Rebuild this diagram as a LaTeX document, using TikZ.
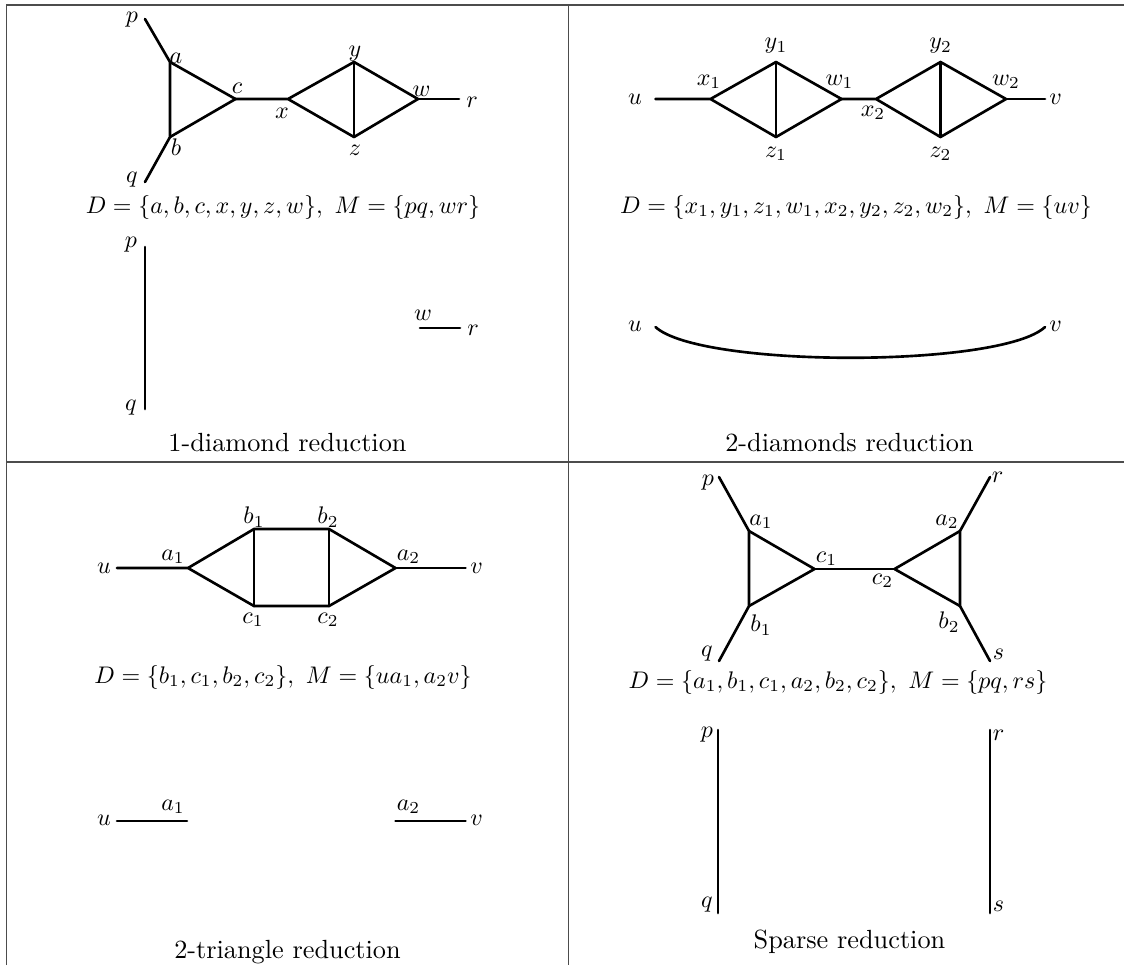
\documentclass[tikz,border=0pt]{standalone}
\usepackage{amsmath}
\usepackage{tikz}
\tikzset{
  % all graph edges share one weight; the table rules are thin and grey
  edge/.style    = {line width=1.1pt, line cap=round, line join=round},
  tabrule/.style = {line width=0.45pt, black!70},
  vlabel/.style  = {inner sep=0pt},
  caption/.style = {inner sep=0pt, font=\fontsize{10.95}{13.6}\selectfont},
}

\begin{document}
\begin{tikzpicture}[x=0.4167pt, y=-0.4167pt]
    \useasboundingbox (0,0) rectangle (1124,965);

    % table rules (the right and bottom ones fall outside the picture)
    \draw[tabrule] (6.5,965) -- (6.5,5) -- (1124,5);
    \draw[tabrule] (568.5,5) -- (568.5,965);
    \draw[tabrule] (6.5,462) -- (1124,462);

    % ---------------- 1-diamond reduction ----------------
    \coordinate (Ap) at (145,19);
    \coordinate (Aq) at (145,182);
    \coordinate (Aa) at (170,62);
    \coordinate (Ab) at (170,137);
    \coordinate (Ac) at (235.5,99);
    \coordinate (Ax) at (288,99);
    \coordinate (Ay) at (354,62);
    \coordinate (Az) at (354,137);
    \coordinate (Aw) at (418,99);
    \coordinate (Ar) at (459,99);

    \draw[edge] (Ap) -- (Aa) -- (Ab) -- (Aq);
    \draw[edge] (Aa) -- (Ac) -- (Ab);
    \draw[edge] (Ac) -- (Ax) -- (Ay) -- (Aw) -- (Az) -- (Ax);
    \draw[edge] (Ay) -- (Az);
    \draw[edge] (Aw) -- (Ar);

    \node[vlabel] (lAp) at (132,20)  {$p$};
    \node[vlabel] (lAq) at (132,180) {$q$};
    \node[vlabel] (lAa) at (176,58)  {$a$};
    \node[vlabel] (lAb) at (176,147) {$b$};
    \node[vlabel] (lAc) at (237,88)  {$c$};
    \node[vlabel] (lAx) at (282,113) {$x$};
    \node[vlabel] (lAy) at (355,54)  {$y$};
    \node[vlabel] (lAz) at (355,150) {$z$};
    \node[vlabel] (lAw) at (421.5,91) {$w$};
    \node[vlabel] (lAr) at (472,102) {$r$};
    \node[vlabel] (fA) at (283,207)
        {$D=\{a,b,c,x,y,z,w\},\ M=\{pq,wr\}$};

    % reduced graph
    \coordinate (Ap2) at (145,247);
    \coordinate (Aq2) at (145,409);
    \coordinate (Aw2) at (420,328);
    \coordinate (Ar2) at (460,328);
    \draw[edge] (Ap2) -- (Aq2);
    \draw[edge] (Aw2) -- (Ar2);
    \node[vlabel] (lAp2) at (131,245) {$p$};
    \node[vlabel] (lAq2) at (131,408) {$q$};
    \node[vlabel] (lAw2) at (423,315) {$w$};
    \node[vlabel] (lAr2) at (473,330) {$r$};
    \node[caption] (cA) at (287.5,443) {1-diamond reduction};

    % ---------------- 2-diamonds reduction ----------------
    \coordinate (Bu) at (655.5,99);
    \coordinate (Bx1) at (710.5,99);
    \coordinate (By1) at (776,62);
    \coordinate (Bz1) at (776,137);
    \coordinate (Bw1) at (841.5,99);
    \coordinate (Bx2) at (876,99);
    \coordinate (By2) at (940.5,62);
    \coordinate (Bz2) at (940.5,137);
    \coordinate (Bw2) at (1006,99);
    \coordinate (Bv) at (1045,99);

    \draw[edge] (Bu) -- (Bx1) -- (By1) -- (Bw1) -- (Bz1) -- (Bx1);
    \draw[edge] (By1) -- (Bz1);
    \draw[edge] (Bw1) -- (Bx2) -- (By2) -- (Bw2) -- (Bz2) -- (Bx2);
    \draw[edge] (By2) -- (Bz2);
    \draw[edge] (Bw2) -- (Bv);

    \node[vlabel] (lBu)  at (635,99)   {$u$};
    \node[vlabel] (lBx1) at (709,82)   {$x_1$};
    \node[vlabel] (lBy1) at (776,46)   {$y_1$};
    \node[vlabel] (lBz1) at (776,154)  {$z_1$};
    \node[vlabel] (lBw1) at (839.5,82) {$w_1$};
    \node[vlabel] (lBx2) at (873,113)  {$x_2$};
    \node[vlabel] (lBy2) at (940.5,46) {$y_2$};
    \node[vlabel] (lBz2) at (940.5,154) {$z_2$};
    \node[vlabel] (lBw2) at (1006,82)  {$w_2$};
    \node[vlabel] (lBv)  at (1055.5,99) {$v$};
    \node[vlabel] (fB) at (856,207)
        {$D=\{x_1,y_1,z_1,w_1,x_2,y_2,z_2,w_2\},\ M=\{uv\}$};

    % reduced graph
    \coordinate (Bu2) at (655.5,327);
    \coordinate (Bv2) at (1045,327);
    \draw[edge] (Bu2) .. controls (700,368) and (1001,368) .. (Bv2);
    \node[vlabel] (lBu2) at (635,326)    {$u$};
    \node[vlabel] (lBv2) at (1055.5,326) {$v$};
    \node[caption] (cB) at (849.5,443) {2-diamonds reduction};

    % ---------------- 2-triangle reduction ----------------
    \coordinate (Cu) at (117,568);
    \coordinate (Ca1) at (188,568);
    \coordinate (Cb1) at (254,529);
    \coordinate (Cc1) at (254,606);
    \coordinate (Cb2) at (329,529);
    \coordinate (Cc2) at (329,606);
    \coordinate (Ca2) at (395.5,568);
    \coordinate (Cv) at (465.5,568);

    \draw[edge] (Cu) -- (Ca1) -- (Cb1) -- (Cb2) -- (Ca2) -- (Cc2) -- (Cc1) -- (Ca1);
    \draw[edge] (Cb1) -- (Cc1);
    \draw[edge] (Cb2) -- (Cc2);
    \draw[edge] (Ca2) -- (Cv);

    \node[vlabel] (lCu)  at (104,568) {$u$};
    \node[vlabel] (lCa1) at (173,557) {$a_1$};
    \node[vlabel] (lCb1) at (254,517) {$b_1$};
    \node[vlabel] (lCc1) at (253,620) {$c_1$};
    \node[vlabel] (lCb2) at (328,517) {$b_2$};
    \node[vlabel] (lCc2) at (328,620) {$c_2$};
    \node[vlabel] (lCa2) at (408.5,557) {$a_2$};
    \node[vlabel] (lCv)  at (476.5,568) {$v$};
    \node[vlabel] (fC) at (283,677)
        {$D=\{b_1,c_1,b_2,c_2\},\ M=\{ua_1,a_2v\}$};

    % reduced graph
    \coordinate (Cu2) at (117,821);
    \coordinate (Ca12) at (187,821);
    \coordinate (Ca22) at (395.5,821);
    \coordinate (Cv2) at (465.5,821);
    \draw[edge] (Cu2) -- (Ca12);
    \draw[edge] (Ca22) -- (Cv2);
    \node[vlabel] (lCu2)  at (104,820)   {$u$};
    \node[vlabel] (lCa12) at (173,807)   {$a_1$};
    \node[vlabel] (lCa22) at (408.5,807) {$a_2$};
    \node[vlabel] (lCv2)  at (476.5,820) {$v$};
    \node[caption] (cC) at (287.5,952) {2-triangle reduction};

    % ---------------- Sparse reduction ----------------
    \coordinate (Dp) at (719,477);
    \coordinate (Dq) at (719,661);
    \coordinate (Da1) at (749,531);
    \coordinate (Db1) at (749,606);
    \coordinate (Dc1) at (814.5,569);
    \coordinate (Dc2) at (894.5,569);
    \coordinate (Da2) at (960,531);
    \coordinate (Db2) at (960,606);
    \coordinate (Dr) at (990,477);
    \coordinate (Ds) at (990,661);

    \draw[edge] (Dp) -- (Da1) -- (Db1) -- (Dq);
    \draw[edge] (Da1) -- (Dc1) -- (Db1);
    \draw[edge] (Dc1) -- (Dc2);
    \draw[edge] (Dr) -- (Da2) -- (Db2) -- (Ds);
    \draw[edge] (Da2) -- (Dc2) -- (Db2);

    \node[vlabel] (lDp)  at (708,483)   {$p$};
    \node[vlabel] (lDq)  at (707,654)   {$q$};
    \node[vlabel] (lDa1) at (761,522)   {$a_1$};
    \node[vlabel] (lDb1) at (761,625)   {$b_1$};
    \node[vlabel] (lDc1) at (826.5,559) {$c_1$};
    \node[vlabel] (lDc2) at (882.5,581) {$c_2$};
    \node[vlabel] (lDa2) at (947,522)   {$a_2$};
    \node[vlabel] (lDb2) at (949,622)   {$b_2$};
    \node[vlabel] (lDr)  at (997.5,477) {$r$};
    \node[vlabel] (lDs)  at (998.5,654) {$s$};
    \node[vlabel] (fD) at (838,682)
        {$D=\{a_1,b_1,c_1,a_2,b_2,c_2\},\ M=\{pq,rs\}$};

    % reduced graph
    \coordinate (Dp2) at (718,730);
    \coordinate (Dq2) at (718,913);
    \coordinate (Dr2) at (990,730);
    \coordinate (Ds2) at (990,913);
    \draw[edge] (Dp2) -- (Dq2);
    \draw[edge] (Dr2) -- (Ds2);
    \node[vlabel] (lDp2) at (707,735)   {$p$};
    \node[vlabel] (lDq2) at (707,905)   {$q$};
    \node[vlabel] (lDr2) at (998.5,735) {$r$};
    \node[vlabel] (lDs2) at (998.5,906) {$s$};
    \node[caption] (cD) at (849.5,942) {Sparse reduction};
\end{tikzpicture}
\end{document}
